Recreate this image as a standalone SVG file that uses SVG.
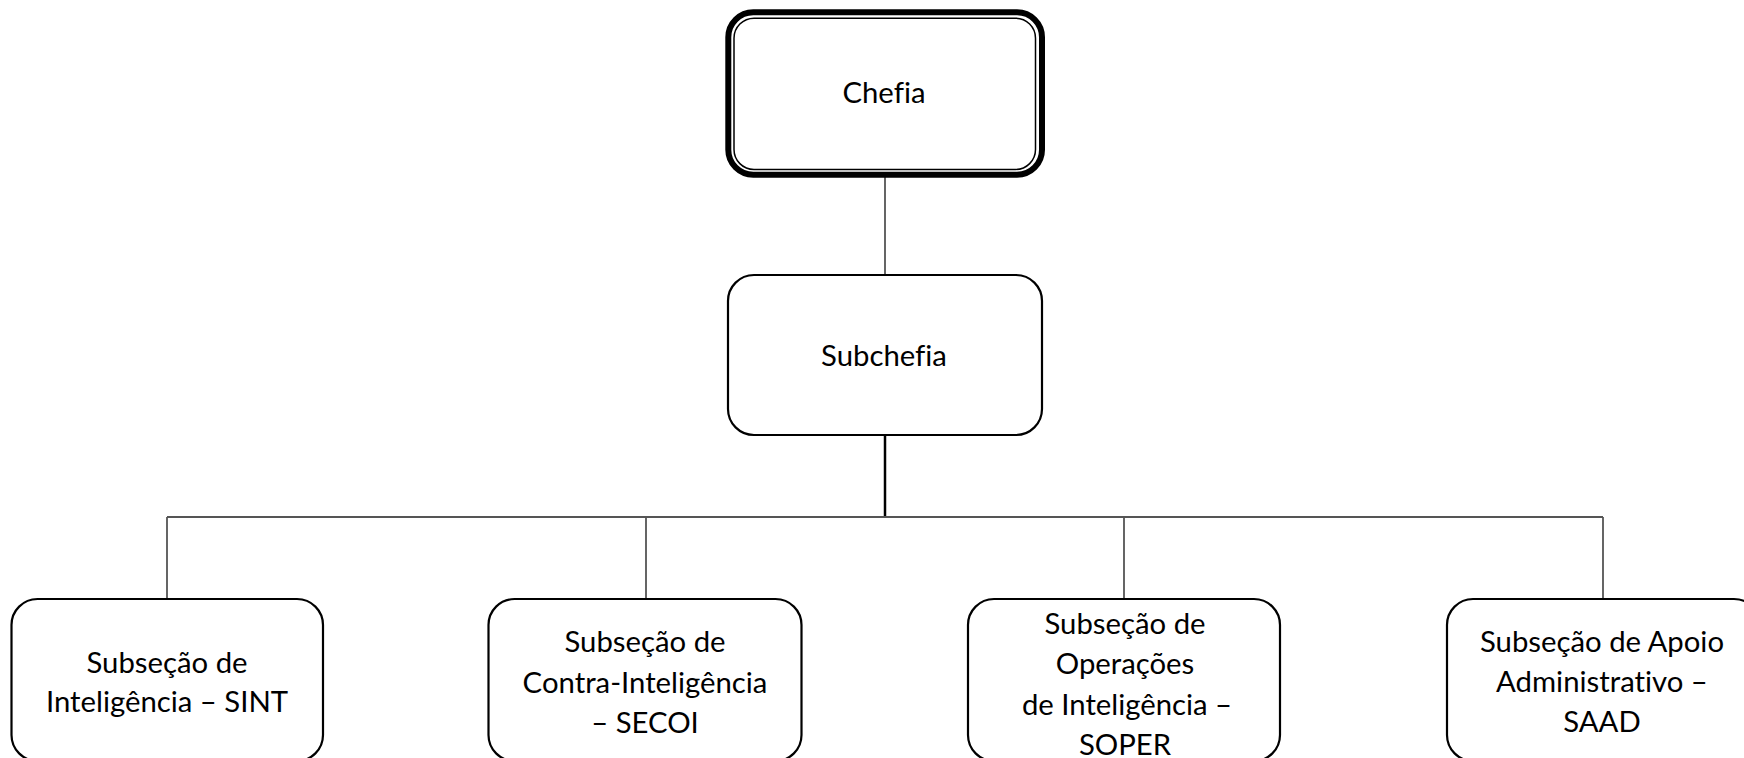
<svg xmlns="http://www.w3.org/2000/svg" width="1744" height="758" viewBox="0 0 1744 758">
<style>
.box{fill:#fff;stroke:#000;stroke-width:2.2}
.lbl{font-family:Lato,"Liberation Sans",sans-serif;font-size:29.3px;fill:#000;text-anchor:middle;font-variant-ligatures:none;font-feature-settings:"liga" 0}
.thin{stroke:#555;stroke-width:1.8;fill:none}
.bold{stroke:#000;stroke-width:2.5;fill:none}
</style>
<rect width="1744" height="758" fill="#fff"/>
<g id="connectors">
<line class="thin" x1="885" y1="176" x2="885" y2="275"/>
<line class="bold" x1="885" y1="435" x2="885" y2="517"/>
<line class="thin" x1="167" y1="517" x2="1603" y2="517"/>
<line class="thin" x1="167" y1="517" x2="167" y2="599"/>
<line class="thin" x1="646" y1="517" x2="646" y2="599"/>
<line class="thin" x1="1124" y1="517" x2="1124" y2="599"/>
<line class="thin" x1="1603" y1="517" x2="1603" y2="599"/>
</g>
<g id="chefia">
<rect x="728.3" y="12.2" width="313.7" height="162.5" rx="25" ry="25" fill="#fff" stroke="#000" stroke-width="6"/>
<rect x="734" y="18.2" width="301.5" height="151.3" rx="20" ry="20" fill="none" stroke="#000" stroke-width="1.5"/>
<text class="lbl" x="884" y="103">Chefia</text>
</g>
<g id="subchefia">
<rect class="box" x="728" y="275" width="314" height="160" rx="26" ry="26"/>
<text class="lbl" x="884" y="366">Subchefia</text>
</g>
<g id="sint">
<rect class="box" x="11.5" y="599" width="311.5" height="162" rx="26" ry="26"/>
<text class="lbl" x="167" y="672.5">Subseção de</text>
<text class="lbl" x="167" y="711.5">Inteligência – SINT</text>
</g>
<g id="secoi">
<rect class="box" x="488.5" y="599" width="313" height="162" rx="26" ry="26"/>
<text class="lbl" x="645" y="652">Subseção de</text>
<text class="lbl" x="645" y="692.5">Contra-Inteligência</text>
<text class="lbl" x="645" y="732.5">– SECOI</text>
</g>
<g id="soper">
<rect class="box" x="968" y="599" width="312" height="162" rx="26" ry="26"/>
<text class="lbl" x="1125" y="633.5">Subseção de</text>
<text class="lbl" x="1125" y="674">Operações</text>
<text class="lbl" x="1127" y="714.5">de Inteligência –</text>
<text class="lbl" x="1125" y="754.5">SOPER</text>
</g>
<g id="saad">
<rect class="box" x="1447" y="599" width="313" height="162" rx="26" ry="26"/>
<text class="lbl" x="1602" y="652">Subseção de Apoio</text>
<text class="lbl" x="1602" y="692">Administrativo –</text>
<text class="lbl" x="1602" y="732">SAAD</text>
</g>
</svg>
